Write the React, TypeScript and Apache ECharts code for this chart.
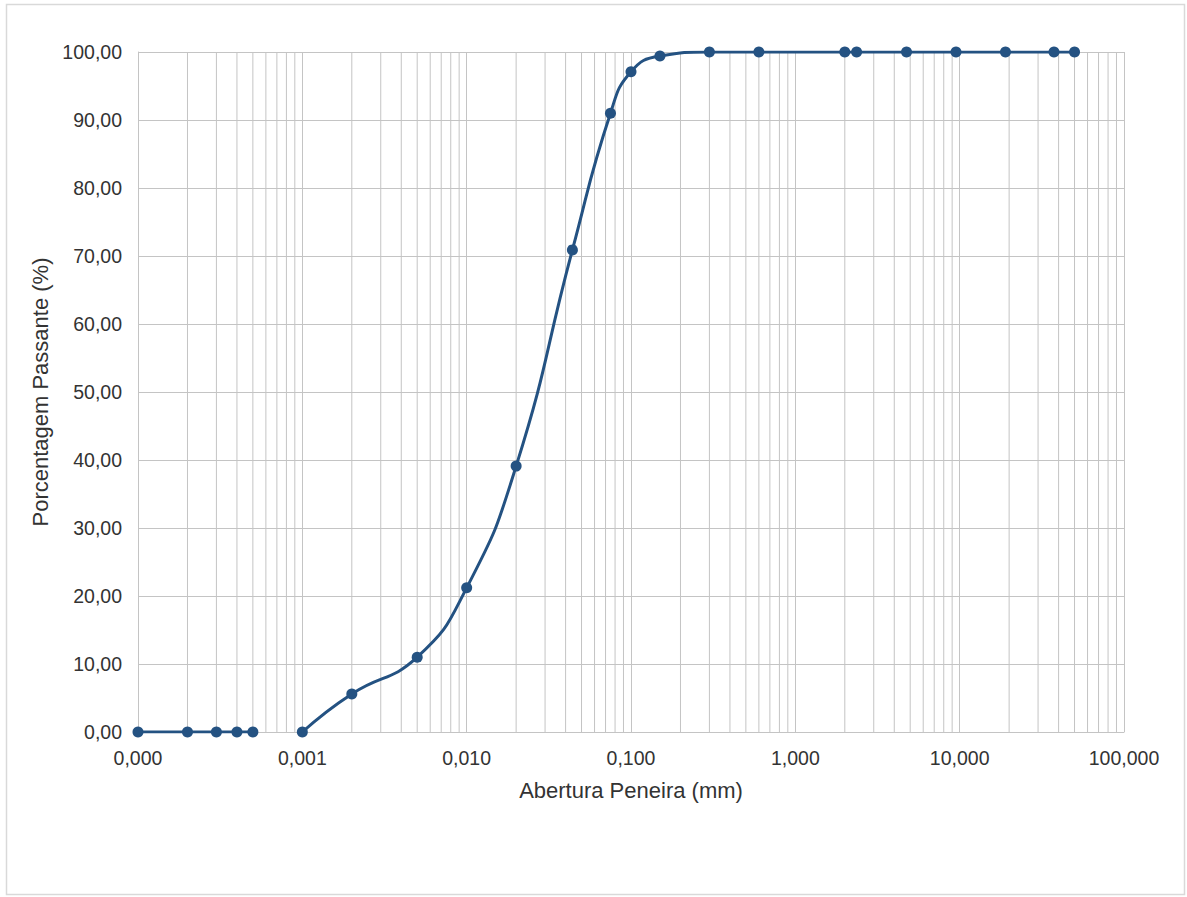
import React, { useEffect, useRef } from "react";
import * as echarts from "echarts";

// Sieve openings (mm) and percent passing
const finesOpenings = [0.0001, 0.0002, 0.0003, 0.0004, 0.0005];
const finesPassing = [0, 0, 0, 0, 0];
const openings = [0.001, 0.002, 0.005, 0.01, 0.02, 0.044, 0.075, 0.1, 0.15, 0.3, 0.6, 2.0, 2.36, 4.75, 9.5, 19, 37.5, 50];
const passing = [0, 5.6, 11.0, 21.2, 39.1, 70.9, 91.0, 97.1, 99.4, 100, 100, 100, 100, 100, 100, 100, 100, 100];

const xMin = 0.0001;
const xMax = 100;
const yMin = 0;
const yMax = 100;
const decades = [0.0001, 0.001, 0.01, 0.1, 1, 10];
const minorMultipliers = [2, 3, 4, 5, 6, 7, 8, 9];

const LINE_COLOR = "#245282";
const GRID_COLOR = "#c4c4c4";
const TEXT_COLOR = "#333333";
const FONT = "'Liberation Sans', Arial, sans-serif";

export default function App() {
  const ref = useRef<HTMLDivElement>(null);
  useEffect(() => {
    document.body.style.margin = "0";
    if (!ref.current) return;
    const chart = echarts.init(ref.current, undefined, { renderer: "svg" });
    const minorGrid: any[] = [];
    decades.forEach((d) =>
      minorMultipliers.forEach((m) => {
        const v = +(d * m).toPrecision(6);
        minorGrid.push([v, yMin], [v, yMax], [v, "-"]);
      })
    );
    const seriesStyle = {
      type: "line" as const,
      smooth: 0.5,
      symbol: "circle",
      symbolSize: 11,
      lineStyle: { color: LINE_COLOR, width: 3 },
      itemStyle: { color: LINE_COLOR },
      z: 5,
    };
    chart.setOption({
      animation: false,
      backgroundColor: "#ffffff",
      textStyle: { fontFamily: FONT },
      graphic: [
        {
          type: "rect",
          shape: { x: 6.5, y: 4.5, width: 1178, height: 890 },
          style: { fill: "none", stroke: "#d9d9d9", lineWidth: 1.5 },
          silent: true,
        },
      ],
      grid: { left: 138, right: 63, top: 52, bottom: 165 },
      xAxis: {
        type: "log",
        logBase: 10,
        min: xMin,
        max: xMax,
        name: "Abertura Peneira (mm)",
        nameLocation: "middle",
        nameGap: 47,
        nameTextStyle: { fontSize: 22, color: TEXT_COLOR, fontFamily: FONT },
        axisLine: { show: true, lineStyle: { color: GRID_COLOR, width: 1 } },
        axisTick: { show: false },
        axisLabel: {
          color: TEXT_COLOR,
          fontSize: 19.5,
          fontFamily: FONT,
          margin: 16,
          formatter: (v: number) => v.toFixed(3).replace(".", ","),
        },
        splitLine: { show: true, lineStyle: { color: GRID_COLOR, width: 1 } },
      },
      yAxis: {
        type: "value",
        min: yMin,
        max: yMax,
        interval: 10,
        name: "Porcentagem Passante (%)",
        nameLocation: "middle",
        nameGap: 86,
        nameTextStyle: { fontSize: 22, color: TEXT_COLOR, fontFamily: FONT },
        axisLine: { show: true, lineStyle: { color: GRID_COLOR, width: 1 } },
        axisTick: { show: false },
        axisLabel: {
          color: TEXT_COLOR,
          fontSize: 19.5,
          fontFamily: FONT,
          margin: 16,
          formatter: (v: number) => v.toFixed(2).replace(".", ","),
        },
        splitLine: { show: true, lineStyle: { color: GRID_COLOR, width: 1 } },
      },
      series: [
        {
          type: "line",
          name: "grade",
          data: minorGrid,
          silent: true,
          symbol: "none",
          connectNulls: false,
          lineStyle: { color: GRID_COLOR, width: 1 },
          z: 1,
        },
        {
          ...seriesStyle,
          name: "finos",
          data: finesOpenings.map((x, i) => [x, finesPassing[i]]),
        },
        {
          ...seriesStyle,
          name: "granulometria",
          data: openings.map((x, i) => [x, passing[i]]),
        },
      ],
    });
    return () => chart.dispose();
  }, []);
  return <div ref={ref} style={{ width: 1187, height: 897 }} />;
}
